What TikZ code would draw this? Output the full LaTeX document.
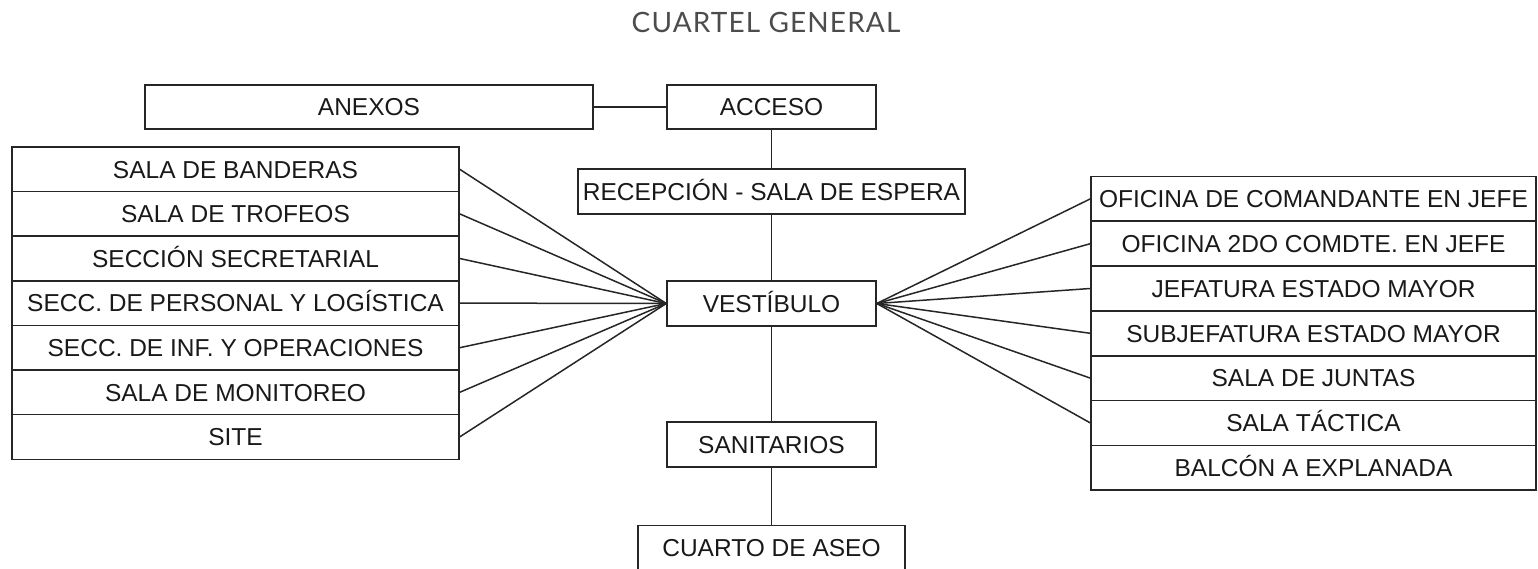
\documentclass[tikz,border=0pt]{standalone}
\usepackage{fontspec}
\setmainfont{Liberation Sans}
\newfontfamily\titlefont[LetterSpace=4]{Lato}
\begin{document}
\begin{tikzpicture}[x=1pt, y=-1pt,
		room/.style={draw=black!85, line width=1.5pt, rectangle, inner sep=0pt, minimum height=44.7pt,
			text height=17.5pt, text depth=0pt, font=\fontsize{24.5}{28}\selectfont, text=black!90},
		link/.style={draw=black!85, line width=1.5pt}]
	\useasboundingbox (0,0) rectangle (1538,569);
	\node[font=\titlefont\fontsize{28}{32}\selectfont, text=black!70] (title) at (766,22) {CUARTEL GENERAL};
	% central axis
	\node[room, minimum width=448pt, minimum height=44pt] (anexos) at (369,107) {ANEXOS};
	\node[room, minimum width=209pt, minimum height=44pt] (acceso) at (771.5,107) {ACCESO};
	\node[room, minimum width=387pt] (recep) at (771.5,191.5) {RECEPCIÓN - SALA DE ESPERA};
	\node[room, minimum width=209pt] (vest) at (771.5,303.5) {VESTÍBULO};
	\node[room, minimum width=209pt] (sanit) at (771.5,444.5) {SANITARIOS};
	\node[room, minimum width=267pt] (aseo) at (771.5,548) {CUARTO DE ASEO};
	% left wing
	\foreach \txt [count=\i] in {SALA DE BANDERAS, SALA DE TROFEOS, SECCIÓN SECRETARIAL,
			SECC. DE PERSONAL Y LOGÍSTICA, SECC. DE INF. Y OPERACIONES, SALA DE MONITOREO, SITE}
		\node[room, minimum width=447pt] (l\i) at (235.5, 147+44.6*\i-22.3) {\txt};
	% right wing
	\foreach \txt [count=\i] in {OFICINA DE COMANDANTE EN JEFE, OFICINA 2DO COMDTE. EN JEFE,
			JEFATURA ESTADO MAYOR, SUBJEFATURA ESTADO MAYOR, SALA DE JUNTAS, SALA TÁCTICA, BALCÓN A EXPLANADA}
		\node[room, minimum width=445pt] (r\i) at (1313.5, 176.5+44.8*\i-22.4) {\txt};
	% connectors
	\draw[link] (anexos.east) -- (acceso.west);
	\draw[link] (acceso.south) -- (recep.north);
	\draw[link] (recep.south) -- (vest.north);
	\draw[link] (vest.south) -- (sanit.north);
	\draw[link] (sanit.south) -- (aseo.north);
	\foreach \i in {1,...,7}
		\draw[link] (l\i.east) -- (vest.west);
	\foreach \i in {1,...,6}
		\draw[link] (vest.east) -- (r\i.west);
\end{tikzpicture}
\end{document}
